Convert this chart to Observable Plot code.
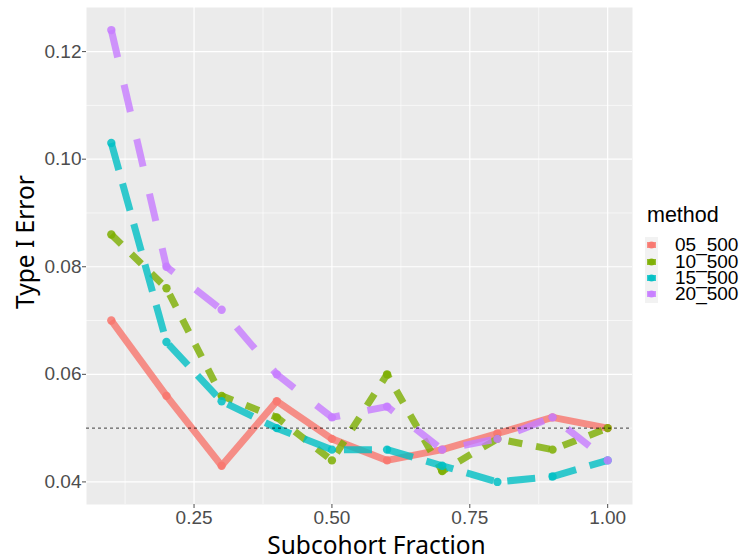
<!DOCTYPE html>
<html>
<head>
<meta charset="utf-8">
<script src="https://cdn.jsdelivr.net/npm/d3@7"></script>
<script src="https://cdn.jsdelivr.net/npm/@observablehq/plot@0.6"></script>
<style>
  html, body { margin: 0; padding: 0; background: white; }
  #wrap { position: relative; width: 746px; height: 560px; }
  #legend { position: absolute; left: 645px; top: 201px; font-family: "Liberation Sans", Arial, sans-serif; }
  #legend .title { font-size: 21.5px; color: #000; line-height: 28px; margin-left: 2px; }
  #legend .row { display: flex; align-items: center; height: 16.4px; }
  #legend .key { width: 13px; height: 16.4px; background: #F2F2F2; display: flex; align-items: center; justify-content: center; }
  #legend .label { font-size: 19px; color: #000; margin-left: 17px; line-height: 16px; }
</style>
</head>
<body>
<div id="wrap"></div>
<script>
// Subcohort fractions on the x axis
const fractions = [0.1, 0.2, 0.3, 0.4, 0.5, 0.6, 0.7, 0.8, 0.9, 1.0];

// Type I error for each method
const err05 = [0.070, 0.056, 0.043, 0.055, 0.048, 0.044, 0.046, 0.049, 0.052, 0.050];
const err10 = [0.086, 0.076, 0.056, 0.052, 0.044, 0.060, 0.042, 0.048, 0.046, 0.050];
const err15 = [0.103, 0.066, 0.055, 0.050, 0.046, 0.046, 0.043, 0.040, 0.041, 0.044];
const err20 = [0.124, 0.080, 0.072, 0.060, 0.052, 0.054, 0.046, 0.048, 0.052, 0.044];

const methods = ["05_500", "10_500", "15_500", "20_500"];
const colors = ["#F8766D", "#7CAE00", "#00BFC4", "#C77CFF"];
const dashes = [null, "14,14", "28,14", "28,28"];

// Axis breaks
const xTicks = [0.25, 0.50, 0.75, 1.00];
const xMinor = [0.125, 0.375, 0.625, 0.875];
const yTicks = [0.04, 0.06, 0.08, 0.10, 0.12];
const yMinor = [0.05, 0.07, 0.09, 0.11];
const nominal = 0.05;

const series = [err05, err10, err15, err20];
const rows = series.flatMap((vals, i) =>
  vals.map((v, j) => ({method: methods[i], x: fractions[j], y: v}))
);

const lineMarks = methods.map((m, i) =>
  Plot.line(rows.filter(d => d.method === m), {
    x: "x", y: "y",
    stroke: colors[i],
    strokeWidth: 7,
    strokeOpacity: 0.8,
    strokeDasharray: dashes[i],
    strokeLinecap: "butt",
    strokeLinejoin: "round"
  })
);

const chart = Plot.plot({
  width: 746,
  height: 560,
  marginLeft: 86,
  marginRight: 114,
  marginTop: 7,
  marginBottom: 56,
  style: {background: "white", fontFamily: "'Liberation Sans', Arial, sans-serif"},
  x: {domain: [0.055, 1.045]},
  y: {domain: [0.0358, 0.1282]},
  color: {domain: methods, range: colors},
  marks: [
    Plot.frame({fill: "#EBEBEB", stroke: null}),
    Plot.ruleX(xMinor, {stroke: "white", strokeWidth: 0.6}),
    Plot.ruleY(yMinor, {stroke: "white", strokeWidth: 0.6}),
    Plot.ruleX(xTicks, {stroke: "white", strokeWidth: 1.2}),
    Plot.ruleY(yTicks, {stroke: "white", strokeWidth: 1.2}),
    ...lineMarks,
    Plot.dot(rows, {x: "x", y: "y", fill: "method", r: 4.2, fillOpacity: 0.85, stroke: null}),
    Plot.ruleY([nominal], {stroke: "#000", strokeWidth: 0.9, strokeDasharray: "3,3", strokeOpacity: 0.85}),
    Plot.axisX(xTicks, {tickSize: 4, tickPadding: 2, fontSize: 19, tickFormat: d3.format(".2f"), label: null, color: "#4D4D4D"}),
    Plot.axisY(yTicks, {tickSize: 4, tickPadding: 1, fontSize: 19, tickFormat: d3.format(".2f"), label: null, color: "#4D4D4D"}),
    Plot.text(["Subcohort Fraction"], {frameAnchor: "bottom", dx: 17, dy: 42, fontSize: 24.5, fontFamily: "'Noto Sans', sans-serif", fill: "#000", lineAnchor: "middle"}),
    Plot.text(["Type I Error"], {frameAnchor: "left", dx: -60, dy: -14, rotate: -90, textAnchor: "middle", fontSize: 24.5, fontFamily: "'Noto Sans', sans-serif", fill: "#000", lineAnchor: "middle"})
  ]
});

const wrap = document.getElementById("wrap");
wrap.appendChild(chart);

// Legend for the method colours
const legend = document.createElement("div");
legend.id = "legend";
let html = `<div class="title">method</div><div style="height:8px"></div>`;
methods.forEach((m, i) => {
  html += `<div class="row"><div class="key"><svg width="13" height="16" viewBox="0 0 13 16">
    <line x1="2" x2="11" y1="8" y2="8" stroke="${colors[i]}" stroke-width="6" stroke-opacity="0.8"/>
    <circle cx="6.5" cy="8" r="3.5" fill="${colors[i]}" fill-opacity="0.85"/></svg></div>
    <div class="label">${m}</div></div>`;
});
legend.innerHTML = html;
wrap.appendChild(legend);
</script>
</body>
</html>
